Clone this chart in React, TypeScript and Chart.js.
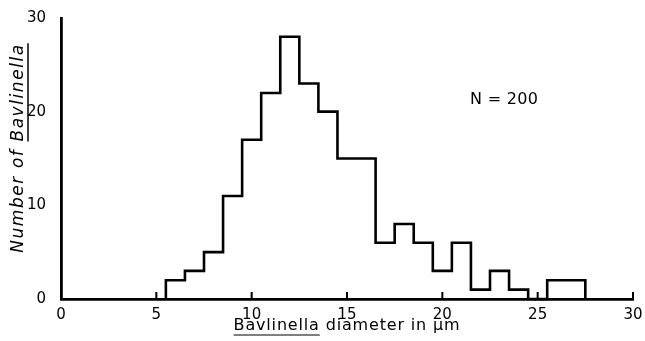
import React, { useEffect, useRef } from "react";
import { Chart, registerables } from "chart.js";

Chart.register(...registerables);

// Histogram bins (µm) and counts
const binStarts = [5.5, 6.5, 7.5, 8.5, 9.5, 10.5, 11.5, 12.5, 13.5, 14.5, 15.5, 16.5, 17.5, 18.5, 19.5, 20.5, 21.5, 22.5, 23.5, 24.5, 25.5, 26.5];
const counts = [2, 3, 5, 11, 17, 22, 28, 23, 20, 15, 15, 6, 8, 6, 3, 6, 1, 3, 1, 0, 2, 2];
const binWidth = 1;

const xTickValues = [0, 5, 10, 15, 20, 25, 30];
const yTickValues = [0, 10, 20, 30];

const xTitleParts = ["Bavlinella", " diameter in μm"];
const yTitleParts = ["Number of ", "Bavlinella"];
const annotationText = "N = 200";

const FONT = "'DejaVu Sans', sans-serif";

function spacedText(ctx: CanvasRenderingContext2D, text: string, target: number) {
  (ctx as any).letterSpacing = "0px";
  const w = ctx.measureText(text).width;
  const ls = Math.max(0, (target - w) / Math.max(1, text.length - 1));
  (ctx as any).letterSpacing = ls + "px";
  return ls;
}

const textPlugin = {
  id: "customText",
  afterDraw(chart: any) {
    const ctx: CanvasRenderingContext2D = chart.ctx;
    const xs = chart.scales.x;
    const area = chart.chartArea;
    ctx.save();
    ctx.fillStyle = "#000";
    ctx.strokeStyle = "#000";

    // inward tick marks on the x axis
    ctx.lineWidth = 2;
    xTickValues.forEach((v) => {
      if (v === 0) return;
      const px = xs.getPixelForValue(v);
      ctx.beginPath();
      ctx.moveTo(px, area.bottom);
      ctx.lineTo(px, area.bottom - 7);
      ctx.stroke();
    });

    // x title
    ctx.font = `16px ${FONT}`;
    ctx.textBaseline = "middle";
    ctx.textAlign = "left";
    const xFull = xTitleParts.join("");
    spacedText(ctx, xFull, 226);
    const xTotal = ctx.measureText(xFull).width;
    const xStart = (area.left + area.right) / 2 - xTotal / 2;
    const xTitleY = 326;
    ctx.fillText(xFull, xStart, xTitleY);
    const ulW = ctx.measureText(xTitleParts[0]).width;
    ctx.lineWidth = 1.2;
    ctx.beginPath();
    ctx.moveTo(xStart, xTitleY + 9);
    ctx.lineTo(xStart + ulW, xTitleY + 9);
    ctx.stroke();

    // y title (rotated)
    ctx.font = `italic 17px ${FONT}`;
    const yFull = yTitleParts.join("");
    spacedText(ctx, yFull, 208);
    const yTotal = ctx.measureText(yFull).width;
    ctx.translate(19, 148);
    ctx.rotate(-Math.PI / 2);
    const yStart = -yTotal / 2;
    ctx.fillText(yFull, yStart, 0);
    const preW = ctx.measureText(yTitleParts[0]).width;
    ctx.lineWidth = 1.5;
    ctx.beginPath();
    ctx.moveTo(yStart + preW, 9);
    ctx.lineTo(yStart + yTotal, 9);
    ctx.stroke();
    ctx.setTransform(1, 0, 0, 1, 0, 0);

    // annotation
    ctx.font = `16px ${FONT}`;
    spacedText(ctx, annotationText, 68);
    ctx.textAlign = "left";
    ctx.fillText(annotationText, 470, 100);
    (ctx as any).letterSpacing = "0px";
    ctx.restore();
  },
};

export default function App() {
  const ref = useRef<HTMLCanvasElement | null>(null);

  useEffect(() => {
    document.body.style.margin = "0";
    if (!ref.current) return;
    const points = [
      { x: binStarts[0], y: 0 },
      ...binStarts.map((s, i) => ({ x: s, y: counts[i] })),
      { x: binStarts[binStarts.length - 1] + binWidth, y: 0 },
    ];
    const chart = new Chart(ref.current, {
      type: "line",
      data: {
        datasets: [
          {
            data: points,
            stepped: "before",
            borderColor: "#000",
            borderWidth: 2.6,
            pointRadius: 0,
            fill: false,
            tension: 0,
            borderJoinStyle: "miter",
            clip: false,
          } as any,
        ],
      },
      options: {
        responsive: false,
        animation: false,
        events: [],
        layout: { padding: { top: 18, right: 12, left: 0, bottom: 0 } },
        plugins: { legend: { display: false }, tooltip: { enabled: false }, title: { display: false } },
        scales: {
          x: {
            type: "linear",
            min: 0,
            max: 30,
            afterBuildTicks: (s: any) => {
              s.ticks = xTickValues.map((v) => ({ value: v }));
            },
            afterFit: (s: any) => {
              s.height = 42;
            },
            grid: { display: false },
            border: { display: true, color: "#000", width: 2.8 },
            ticks: {
              color: "#000",
              font: { family: FONT, size: 15 },
              maxRotation: 0,
              autoSkip: false,
              padding: -1,
            },
          },
          y: {
            type: "linear",
            min: 0,
            max: 30,
            afterBuildTicks: (s: any) => {
              s.ticks = yTickValues.map((v) => ({ value: v }));
            },
            afterFit: (s: any) => {
              s.width = 61;
            },
            grid: { display: false },
            border: { display: true, color: "#000", width: 2.8 },
            ticks: {
              color: "#000",
              font: { family: FONT, size: 15 },
              padding: 7,
            },
          },
        },
      },
      plugins: [textPlugin],
    });
    return () => chart.destroy();
  }, []);

  return (
    <div style={{ width: 645, height: 341, background: "#fff" }}>
      <canvas ref={ref} width={645} height={341} />
    </div>
  );
}
